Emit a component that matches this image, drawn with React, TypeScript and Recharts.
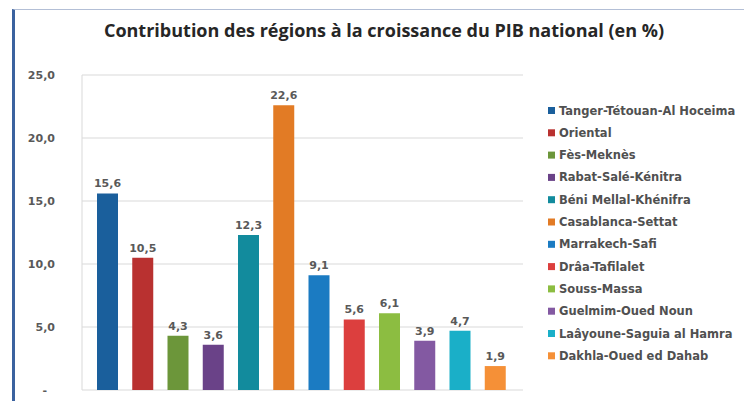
import { BarChart, Bar, Cell, CartesianGrid, LabelList, XAxis, YAxis } from "recharts";

const regions = [
  "Tanger-Tétouan-Al Hoceima",
  "Oriental",
  "Fès-Meknès",
  "Rabat-Salé-Kénitra",
  "Béni Mellal-Khénifra",
  "Casablanca-Settat",
  "Marrakech-Safi",
  "Drâa-Tafilalet",
  "Souss-Massa",
  "Guelmim-Oued Noun",
  "Laâyoune-Saguia al Hamra",
  "Dakhla-Oued ed Dahab",
];
const contributions = [15.6, 10.5, 4.3, 3.6, 12.3, 22.6, 9.1, 5.6, 6.1, 3.9, 4.7, 1.9];
const colors = [
  "#1a5f9c",
  "#b93130",
  "#6c963a",
  "#6a4288",
  "#128b9d",
  "#e27b25",
  "#1b7bc2",
  "#dc3f3e",
  "#8cbd41",
  "#8359a2",
  "#1aafc8",
  "#f59037",
];
const yTicks = [0, 5, 10, 15, 20, 25];

const data = regions.map((region, i) => ({ region, value: contributions[i] }));

const fmt = (v: number) => (v === 0 ? "-" : v.toFixed(1).replace(".", ","));

const textFont = "'DejaVu Sans', sans-serif";

function YTick(props: any) {
  const { x, y, payload } = props;
  const zero = payload.value === 0;
  return (
    <text
      x={zero ? x - 8 : x}
      y={y}
      dy={4}
      textAnchor="end"
      fontFamily={textFont}
      fontSize={11}
      fontWeight="bold"
      fill="#595959"
    >
      {fmt(payload.value)}
    </text>
  );
}

function RegionLegend() {
  return (
    <g>
      {regions.map((r, i) => (
        <g key={r}>
          <rect x={548} y={107 + i * 22.3} width={7} height={7} fill={colors[i]} />
          <text
            x={559}
            y={114.5 + i * 22.3}
            fontFamily={textFont}
            fontSize={11.5}
            fontWeight="bold"
            fill="#505050"
          >
            {r}
          </text>
        </g>
      ))}
    </g>
  );
}

export default function App() {
  return (
    <div style={{ position: "absolute", left: 0, top: 0, width: 744, height: 401, background: "#fff" }}>
      <div
        style={{
          position: "absolute",
          left: 12,
          top: 9,
          width: 732,
          height: 392,
          borderLeft: "3px solid #3b629f",
          borderTop: "1px solid #b3bfd6",
        }}
      />
      <div style={{ position: "absolute", left: 0, top: 0 }}>
        <BarChart
          width={744}
          height={401}
          data={data}
          margin={{ top: 75, right: 221, bottom: 11, left: 0 }}
        >
          <text
            x={384}
            y={37}
            textAnchor="middle"
            fontFamily="'Open Sans', sans-serif"
            fontWeight="bold"
            fontSize={18}
            fill="#262626"
          >
            Contribution des régions à la croissance du PIB national (en %)
          </text>
          <CartesianGrid stroke="#d9d9d9" vertical={false} />
          <XAxis
            dataKey="region"
            tick={false}
            tickLine={false}
            height={0}
            stroke="#d9d9d9"
            padding={{ left: 8, right: 10 }}
          />
          <YAxis
            width={82}
            domain={[0, 25]}
            ticks={yTicks}
            interval={0}
            tickLine={false}
            tickMargin={21}
            stroke="#d9d9d9"
            tick={<YTick />}
          />
          <Bar dataKey="value" barSize={21} isAnimationActive={false}>
            {data.map((d, i) => (
              <Cell key={d.region} fill={colors[i]} />
            ))}
            <LabelList
              dataKey="value"
              position="top"
              offset={6}
              formatter={(v: any) => fmt(Number(v))}
              fontFamily={textFont}
              fontSize={11}
              fontWeight="bold"
              fill="#595959"
            />
          </Bar>
          <RegionLegend />
        </BarChart>
      </div>
    </div>
  );
}
